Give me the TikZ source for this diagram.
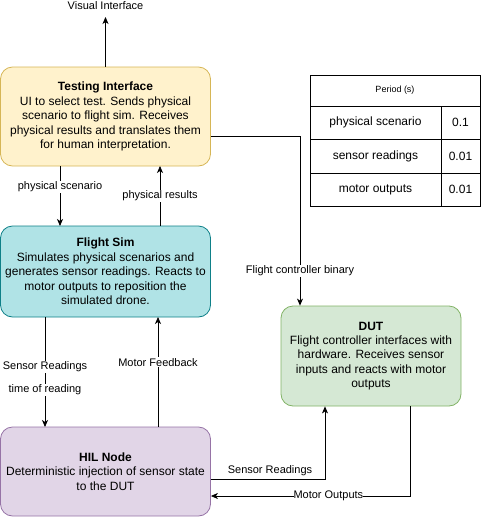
\documentclass[tikz,border=0pt]{standalone}
\usepackage{fontspec}
\setmainfont{Liberation Sans}
\usetikzlibrary{arrows.meta}
\definecolor{tifill}{HTML}{FFF2CC}\definecolor{tidraw}{HTML}{D6B656}
\definecolor{fsfill}{HTML}{B0E3E6}\definecolor{fsdraw}{HTML}{0E8088}
\definecolor{hilfill}{HTML}{E1D5E7}\definecolor{hildraw}{HTML}{9673A6}
\definecolor{dutfill}{HTML}{D5E8D4}\definecolor{dutdraw}{HTML}{82B366}
\tikzset{
  box/.style={rectangle, rounded corners=12pt, inner sep=0pt, align=center,
    font=\fontsize{12}{14.4}\selectfont, line width=0.8pt},
  conn/.style={line width=0.8pt, -{Stealth[length=7pt,width=6pt,inset=2pt]}},
  elabel/.style={fill=white, inner sep=1pt, font=\fontsize{11}{13}\selectfont},
  cell/.style={draw, line width=0.8pt, inner sep=0pt, font=\fontsize{12}{14}\selectfont},
}
\begin{document}
\begin{tikzpicture}[x=1pt,y=-1pt]
\useasboundingbox (0,0) rectangle (481,517);
% boxes
\node[box, draw=tidraw, fill=tifill, minimum width=210pt, minimum height=99pt] (ti) at (105.5,116.5)
  {\textbf{Testing Interface}\\UI to select test. Sends physical\\scenario to flight sim. Receives\\physical results and translates them\\for human interpretation.};
\node[box, draw=fsdraw, fill=fsfill, minimum width=210pt, minimum height=91pt] (fs) at (105.5,271.5)
  {\textbf{Flight Sim}\\Simulates physical scenarios and\\generates sensor readings. Reacts to\\motor outputs to reposition the\\simulated drone.};
\node[box, draw=hildraw, fill=hilfill, minimum width=210pt, minimum height=89pt] (hil) at (105.5,471.5)
  {\textbf{HIL Node}\\Deterministic injection of sensor state\\to the DUT};
\node[box, draw=dutdraw, fill=dutfill, minimum width=180pt, minimum height=100pt] (dut) at (371,356)
  {\textbf{DUT}\\Flight controller interfaces with\\hardware. Receives sensor\\inputs and reacts with motor\\outputs};
% table
\node[cell, minimum width=170pt, minimum height=31pt, font=\fontsize{9}{11}\selectfont] (th) at (395,90.5) {Period (s)};
\node[cell, minimum width=131pt, minimum height=33pt] (r1a) at (375.5,122.5) {physical scenario};
\node[cell, minimum width=39pt, minimum height=33pt] (r1b) at (460.5,122.5) {0.1};
\node[cell, minimum width=131pt, minimum height=34pt] (r2a) at (375.5,156) {sensor readings};
\node[cell, minimum width=39pt, minimum height=34pt] (r2b) at (460.5,156) {0.01};
\node[cell, minimum width=131pt, minimum height=33pt] (r3a) at (375.5,189.5) {motor outputs};
\node[cell, minimum width=39pt, minimum height=33pt] (r3b) at (460.5,189.5) {0.01};
% connectors
\coordinate (vi) at (105.5,17);
\node[font=\fontsize{11}{13}\selectfont, anchor=center] (vilab) at (105.5,6) {Visual Interface};
\draw[conn] (ti.north -| vi) -- (vi);
\draw[conn] (60,166) -- (60,226) node[elabel, pos=0.35] {physical scenario};
\draw[conn] (160,226) -- (160,166) node[elabel, pos=0.5] {physical results};
\coordinate (fcb) at (300,136);
\draw[conn] (ti.east |- fcb) -- (fcb) -- (dut.north -| fcb) node[elabel, pos=0.795] {Flight controller binary};
\draw[conn] (45,317) -- (45,427) node[elabel, pos=0.455] {Sensor Readings} node[elabel, pos=0.665] {time of reading};
\draw[conn] (158,427) -- (158,317) node[elabel, pos=0.59] {Motor Feedback};
\coordinate (sr) at (325,479);
\draw[conn] (hil.east |- sr) -- (sr) -- (dut.south -| sr);
\node[font=\fontsize{11}{13}\selectfont] (srlab) at (270,471) {Sensor Readings};
\coordinate (mo) at (410,496);
\draw[conn] (dut.south -| mo) -- (mo) -- (hil.east |- mo) node[elabel, inner sep=0pt, pos=0.41] {Motor Outputs};
\end{tikzpicture}
\end{document}
